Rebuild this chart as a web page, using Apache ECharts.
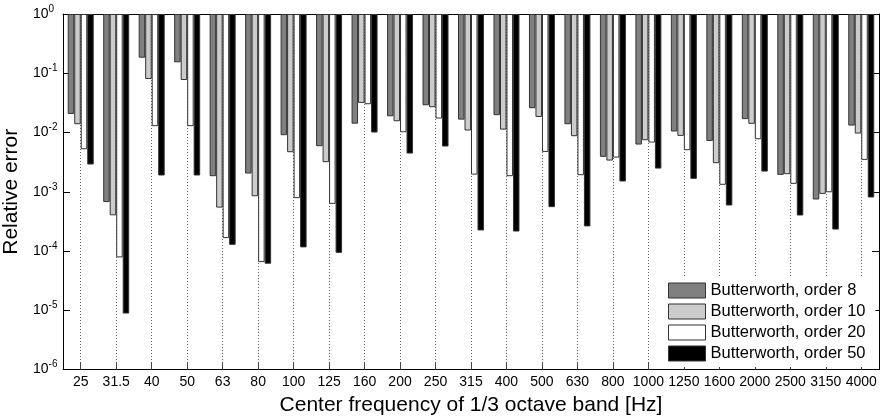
<!DOCTYPE html>
<html>
<head>
<meta charset="utf-8">
<script src="https://cdn.jsdelivr.net/npm/echarts@6/dist/echarts.min.js"></script>
<style>
  html, body { margin: 0; padding: 0; background: #fff; }
  #chart { width: 882px; height: 418px; }
</style>
</head>
<body>
<div id="chart"></div>
<script>
// 1/3 octave band centre frequencies [Hz]
const bands = ['25', '31.5', '40', '50', '63', '80', '100', '125', '160', '200', '250', '315',
  '400', '500', '630', '800', '1000', '1250', '1600', '2000', '2500', '3150', '4000'];

// relative error per filter order
const order8 = [0.0206, 6.7e-4, 0.183, 0.153, 0.00183, 0.00203, 0.0090, 0.00587, 0.0141, 0.0188, 0.0288, 0.0165,
  0.0196, 0.0257, 0.0138, 0.00388, 0.00626, 0.0104, 0.0072, 0.0168, 0.00193, 7.4e-4, 0.0131];
const order10 = [0.0138, 4.0e-4, 0.080, 0.077, 5.4e-4, 8.4e-4, 0.00465, 0.00316, 0.0316, 0.0155, 0.0267, 0.0108,
  0.0112, 0.0183, 0.00866, 0.00336, 0.00741, 0.00877, 0.00303, 0.0140, 0.00198, 9.2e-4, 0.0096];
const order20 = [0.00522, 7.8e-5, 0.0128, 0.0128, 1.65e-4, 6.5e-5, 7.8e-4, 6.25e-4, 0.030, 0.0101, 0.0172, 0.00195,
  0.00183, 0.0047, 0.0019, 0.00377, 0.00676, 0.00503, 0.00131, 0.0077, 0.00136, 9.8e-4, 0.00345];
const order50 = [0.00288, 8.8e-6, 0.00188, 0.00188, 1.27e-4, 6.1e-5, 1.15e-4, 9.3e-5, 0.0100, 0.00441, 0.0058, 2.22e-4,
  2.13e-4, 5.5e-4, 2.6e-4, 0.00149, 0.00246, 0.00165, 5.86e-4, 0.00219, 3.97e-4, 2.3e-4, 8.0e-4];

const seriesNames = ['Butterworth, order 8', 'Butterworth, order 10', 'Butterworth, order 20', 'Butterworth, order 50'];
const seriesData = [order8, order10, order20, order50];
const fills = ['#808080', '#cccccc', '#ffffff', '#000000'];

const font = 'Liberation Sans, Arial, Helvetica, sans-serif';

const chart = echarts.init(document.getElementById('chart'), null, { renderer: 'canvas' });

function decadeLabel(v) {
  const e = Math.round(Math.log10(v));
  return '{b|10}{s|' + e + '}';
}

const yCommon = {
  type: 'log',
  logBase: 10,
  min: 1e-6,
  max: 1,
  splitNumber: 6,
  axisLine: { show: true, lineStyle: { color: '#000', width: 1 } },
  axisTick: { show: true, inside: true, length: 7, lineStyle: { color: '#000' } },
  minorTick: { show: false },
  splitLine: { show: false }
};

const option = {
  animation: false,
  backgroundColor: '#fff',
  textStyle: { fontFamily: font },
  grid: { left: 63, right: 3, top: 14, bottom: 48.5, containLabel: false, outerBoundsMode: 'none' },
  legend: {
    data: seriesNames,
    orient: 'vertical',
    left: 663,
    top: 277,
    padding: [5, 10, 5, 5],
    backgroundColor: '#fff',
    icon: 'rect',
    itemWidth: 37,
    itemHeight: 15,
    itemGap: 4,
    selectedMode: false,
    itemStyle: { borderColor: '#333', borderWidth: 1 },
    textStyle: { fontFamily: font, fontSize: 16.5, lineHeight: 15, color: '#000' }
  },
  xAxis: [
    {
      type: 'category',
      data: bands,
      position: 'bottom',
      name: 'Center frequency of 1/3 octave band [Hz]',
      nameLocation: 'middle',
      nameGap: 21,
      nameTextStyle: { fontFamily: font, fontSize: 21, color: '#000' },
      axisLine: { show: true, onZero: false, lineStyle: { color: '#000', width: 1 } },
      axisTick: { show: true, inside: true, alignWithLabel: true, length: 7, lineStyle: { color: '#444' } },
      axisLabel: { fontFamily: font, fontSize: 14, color: '#000', margin: 6, interval: 0, hideOverlap: false },
      splitLine: {
        show: true,
        alignWithLabel: true,
        lineStyle: { color: '#666', width: 1, type: [1, 2] }
      }
    },
    {
      type: 'category',
      data: bands,
      position: 'top',
      axisLine: { show: true, onZero: false, lineStyle: { color: '#000', width: 1 } },
      axisTick: { show: false },
      axisLabel: { show: false },
      splitLine: { show: false }
    }
  ],
  yAxis: [
    Object.assign({}, yCommon, {
      position: 'left',
      name: 'Relative error',
      nameLocation: 'middle',
      nameGap: 36,
      nameTextStyle: { fontFamily: font, fontSize: 21, color: '#000' },
      axisLabel: {
        margin: 30,
        align: 'left',
        formatter: decadeLabel,
        rich: {
          b: { fontFamily: font, fontSize: 14, color: '#000', lineHeight: 20 },
          s: { fontFamily: font, fontSize: 10, color: '#000', lineHeight: 12, verticalAlign: 'top' }
        }
      }
    }),
    Object.assign({}, yCommon, {
      position: 'right',
      axisLabel: { show: false }
    })
  ],
  series: seriesNames.map((name, i) => ({
    name: name,
    type: 'bar',
    xAxisIndex: 0,
    yAxisIndex: 0,
    data: seriesData[i],
    barWidth: 6.5,
    barGap: '0%',
    itemStyle: { color: fills[i], borderColor: '#333', borderWidth: 1 },
    emphasis: { disabled: true }
  }))
};

chart.setOption(option);
</script>
</body>
</html>
